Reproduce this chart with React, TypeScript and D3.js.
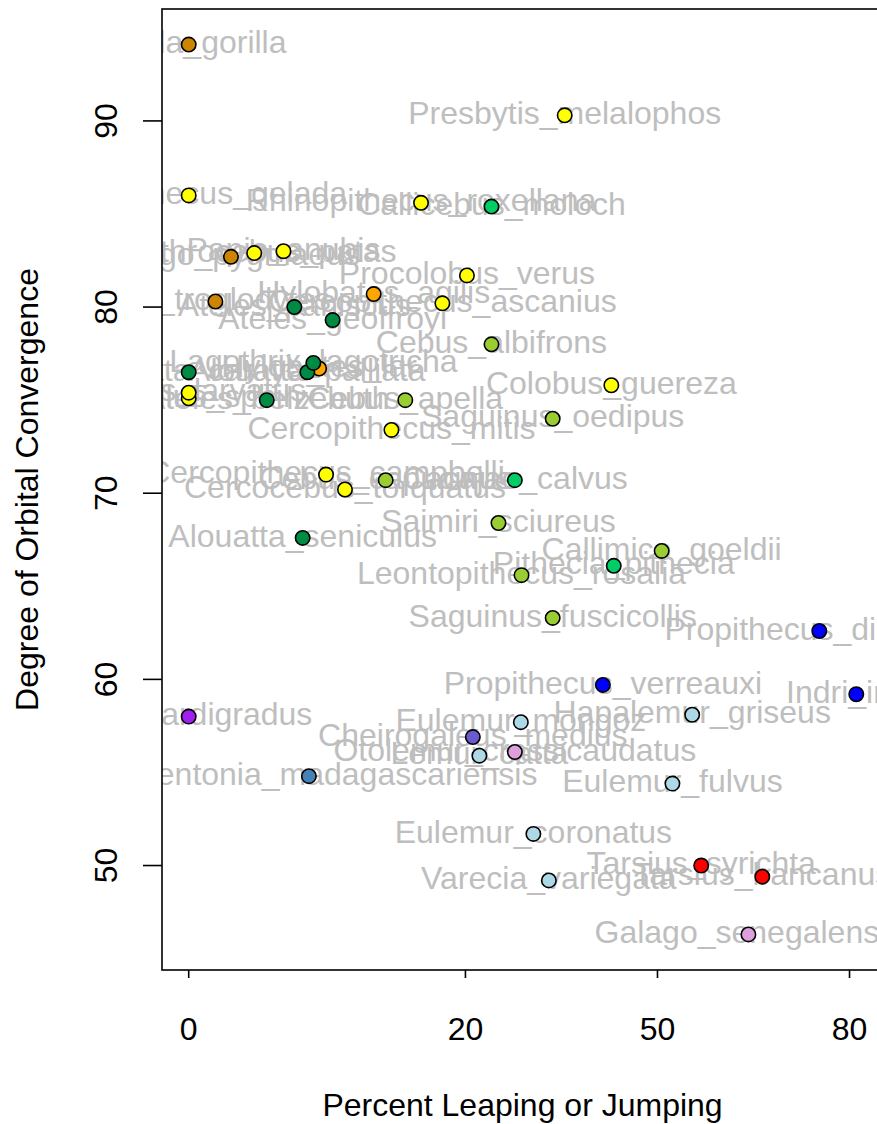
import * as d3 from 'd3';
import React from 'react';

// primate species, percent of locomotion spent leaping, orbital convergence (deg)
const species = [
  'Gorilla_gorilla', 'Presbytis_melalophos', 'Theropithecus_gelada', 'Rhinopithecus_roxellana',
  'Callicebus_moloch', 'Pongo_pygmaeus', 'Erythrocebus_patas', 'Papio_anubis',
  'Procolobus_verus', 'Hylobates_agilis', 'Pan_troglodytes', 'Cercopithecus_ascanius',
  'Ateles_paniscus', 'Ateles_geoffroyi', 'Cebus_albifrons', 'Hylobates_lar',
  'Alouatta_palliata', 'Lagothrix_lagotricha', 'Alouatta_caraya', 'Colobus_guereza',
  'Mandrillus_sphinx', 'Nasalis_larvatus', 'Ateles_belzebuth', 'Cebus_apella',
  'Saguinus_oedipus', 'Cercopithecus_mitis', 'Cercopithecus_campbelli', 'Cebus_capucinus',
  'Cacajao_calvus', 'Cercocebus_torquatus', 'Saimiri_sciureus', 'Alouatta_seniculus',
  'Callimico_goeldii', 'Pithecia_pithecia', 'Leontopithecus_rosalia', 'Saguinus_fuscicollis',
  'Propithecus_diadema', 'Propithecus_verreauxi', 'Indri_indri', 'Hapalemur_griseus',
  'Loris_tardigradus', 'Eulemur_mongoz', 'Cheirogaleus_medius', 'Otolemur_crassicaudatus',
  'Lemur_catta', 'Daubentonia_madagascariensis', 'Eulemur_fulvus', 'Eulemur_coronatus',
  'Tarsius_syrichta', 'Tarsius_bancanus', 'Varecia_variegata', 'Galago_senegalensis'
];

const leaping = [
  0, 34.7, 0, 14.4,
  23.6, 0.5, 1.2, 2.5,
  20.2, 9.3, 0.2, 17.0,
  3.1, 5.7, 23.6, 4.7,
  3.9, 4.3, 0, 42.3,
  0, 0, 1.7, 12.6,
  32.8, 11.1, 5.2, 10.5,
  27.0, 6.7, 24.6, 3.6,
  50.7, 42.7, 28.0, 32.8,
  75.8, 40.9, 80.9, 55.8,
  0, 27.9, 21.0, 27.0,
  21.9, 4.0, 52.5, 29.8,
  57.3, 67.2, 32.2, 65.0
];

const convergence = [
  94.1, 90.3, 86.0, 85.6,
  85.4, 82.7, 82.9, 83.0,
  81.7, 80.7, 80.3, 80.2,
  80.0, 79.3, 78.0, 76.7,
  76.5, 77.0, 76.5, 75.8,
  75.1, 75.4, 75.0, 75.0,
  74.0, 73.4, 71.0, 70.7,
  70.7, 70.2, 68.4, 67.6,
  66.9, 66.1, 65.6, 63.3,
  62.6, 59.7, 59.2, 58.1,
  58.0, 57.7, 56.9, 56.1,
  55.9, 54.8, 54.4, 51.7,
  50.0, 49.4, 49.2, 46.3
];

const clade = [
  'Hominidae', 'Cercopithecidae', 'Cercopithecidae', 'Cercopithecidae',
  'Pitheciidae', 'Hominidae', 'Cercopithecidae', 'Cercopithecidae',
  'Cercopithecidae', 'Hylobatidae', 'Hominidae', 'Cercopithecidae',
  'Atelidae', 'Atelidae', 'Cebidae', 'Hylobatidae',
  'Atelidae', 'Atelidae', 'Atelidae', 'Cercopithecidae',
  'Cercopithecidae', 'Cercopithecidae', 'Atelidae', 'Cebidae',
  'Cebidae', 'Cercopithecidae', 'Cercopithecidae', 'Cebidae',
  'Pitheciidae', 'Cercopithecidae', 'Cebidae', 'Atelidae',
  'Cebidae', 'Pitheciidae', 'Cebidae', 'Cebidae',
  'Indriidae', 'Indriidae', 'Indriidae', 'Lemuridae',
  'Lorisidae', 'Lemuridae', 'Cheirogaleidae', 'Galagidae',
  'Lemuridae', 'Daubentoniidae', 'Lemuridae', 'Lemuridae',
  'Tarsiidae', 'Tarsiidae', 'Lemuridae', 'Galagidae'
];

const cladeNames = [
  'Hominidae', 'Hylobatidae', 'Cercopithecidae', 'Atelidae', 'Pitheciidae', 'Cebidae',
  'Indriidae', 'Lemuridae', 'Lorisidae', 'Cheirogaleidae', 'Galagidae', 'Daubentoniidae', 'Tarsiidae'
];
const cladeColors = [
  '#CD8500', '#FFA500', '#FFFF00', '#008B45', '#00CD66', '#9ACD32',
  '#0000FF', '#ADD8E6', '#A020F0', '#6A5ACD', '#DDA0DD', '#4682B4', '#FF0000'
];

const xTicks = [0, 20, 50, 80];
const yTicks = [50, 60, 70, 80, 90];

const width = 877;
const height = 1124;
const plot = { left: 162, top: 9, right: 883, bottom: 970 };
const font = 'Liberation Sans, Arial, Helvetica, sans-serif';

// arcsine square-root transform of a percentage
const asinSqrt = (p: number) => Math.asin(Math.sqrt(p / 100));

// R style 4% padding around the data range
function padded(ext: [number, number]): [number, number] {
  const r = ext[1] - ext[0];
  return [ext[0] - 0.04 * r, ext[1] + 0.04 * r];
}

export default function App() {
  const data = species.map((name, i) => ({
    name,
    leap: leaping[i],
    orbit: convergence[i],
    clade: clade[i]
  }));

  const color = d3.scaleOrdinal<string, string>().domain(cladeNames).range(cladeColors);

  const xScale = d3.scaleLinear()
    .domain(padded(d3.extent(data, d => asinSqrt(d.leap)) as [number, number]))
    .range([plot.left, plot.right]);
  const x = (p: number) => xScale(asinSqrt(p));

  const y = d3.scaleLinear()
    .domain(padded(d3.extent(data, d => d.orbit) as [number, number]))
    .range([plot.bottom, plot.top]);

  return (
    <div style={{ position: 'absolute', left: 0, top: 0 }}>
      <svg width={width} height={height} style={{ display: 'block', background: '#fff' }}>
        <defs>
          <clipPath id="plot-clip">
            <rect x={plot.left} y={plot.top} width={plot.right - plot.left} height={plot.bottom - plot.top} />
          </clipPath>
        </defs>

        <g clipPath="url(#plot-clip)" fontFamily={font} fontSize={32} fill="#BEBEBE" textAnchor="middle">
          {data.map(d => (
            <text key={'t' + d.name} x={x(d.leap)} y={y(d.orbit)} dy="0.27em">{d.name}</text>
          ))}
        </g>

        <g>
          {data.map(d => (
            <circle key={'c' + d.name} cx={x(d.leap)} cy={y(d.orbit)} r={7.2}
              fill={color(d.clade)} stroke="#000" strokeWidth={1.6} />
          ))}
        </g>

        <rect x={plot.left} y={plot.top} width={plot.right - plot.left} height={plot.bottom - plot.top}
          fill="none" stroke="#000" strokeWidth={1.6} />

        <g fontFamily={font} fontSize={32} fill="#000" textAnchor="middle">
          {xTicks.map(t => (
            <g key={'x' + t}>
              <line x1={x(t)} x2={x(t)} y1={plot.bottom} y2={plot.bottom + 8} stroke="#000" strokeWidth={1.6} />
              <text x={x(t)} y={1040}>{t}</text>
            </g>
          ))}
          {yTicks.map(t => (
            <g key={'y' + t}>
              <line x1={plot.left - 19} x2={plot.left} y1={y(t)} y2={y(t)} stroke="#000" strokeWidth={1.6} />
              <text transform={`translate(117,${y(t)}) rotate(-90)`}>{t}</text>
            </g>
          ))}
          <text x={(plot.left + width) / 2 + 3} y={1116}>Percent Leaping or Jumping</text>
          <text transform={`translate(38,${(plot.top + plot.bottom) / 2}) rotate(-90)`}>Degree of Orbital Convergence</text>
        </g>
      </svg>
    </div>
  );
}
